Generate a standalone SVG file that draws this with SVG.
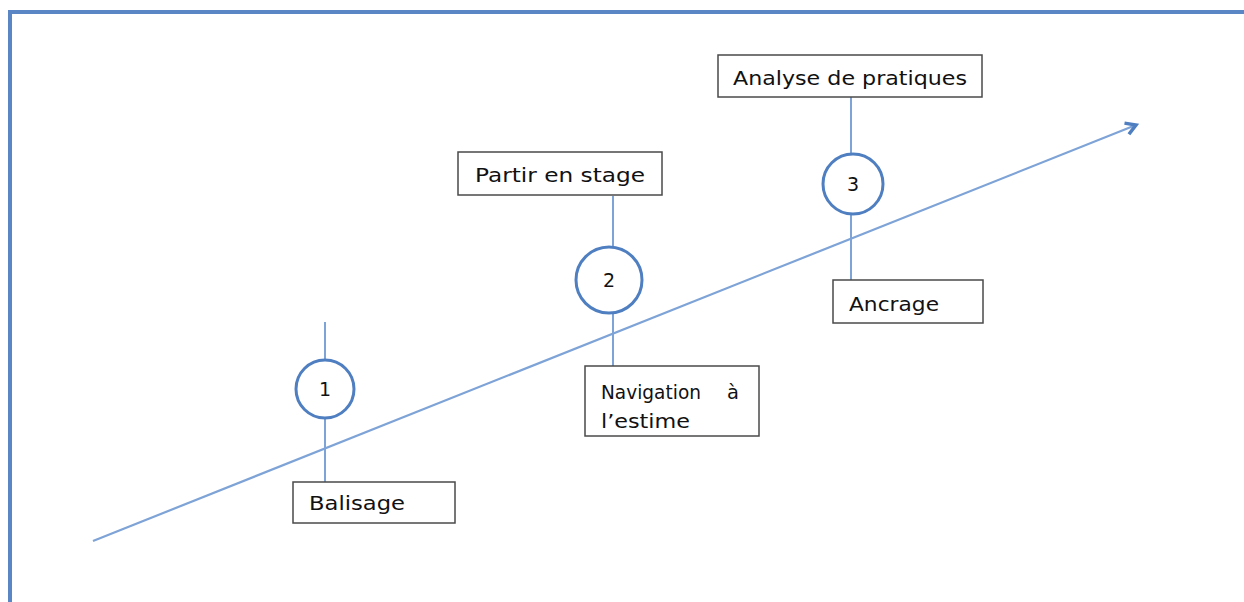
<svg xmlns="http://www.w3.org/2000/svg" width="1244" height="602" viewBox="0 0 1244 602">
<style>
.box{fill:#fff;stroke:#4a4a4a;stroke-width:1.5}
.lbl{font-family:"DejaVu Sans",Verdana,sans-serif;font-size:19.5px;fill:#111}
.num{font-family:"DejaVu Sans",Verdana,sans-serif;font-size:19px;fill:#111;text-anchor:middle}
.stem{stroke:#7ea3d6;stroke-width:2;fill:none}
.circ{fill:#fff;stroke:#4f7fc1;stroke-width:3}
</style>
<defs>
<marker id="arr" markerWidth="16" markerHeight="16" refX="12" refY="8" orient="auto" markerUnits="userSpaceOnUse">
<path d="M2,2 L12,8 L2,14" fill="none" stroke="#4f7fc1" stroke-width="3.5"/>
</marker>
</defs>
<rect width="1244" height="602" fill="#fff"/>
<rect x="10" y="12" width="1400" height="800" fill="none" stroke="#5b86c5" stroke-width="4"/>
<g id="connectors">
<line x1="93" y1="541" x2="1136" y2="125" stroke="#7ea3d6" stroke-width="2.2" marker-end="url(#arr)"/>
<line class="stem" x1="325" y1="322" x2="325" y2="482"/>
<line class="stem" x1="613" y1="196" x2="613" y2="366"/>
<line class="stem" x1="851" y1="97" x2="851" y2="280"/>
</g>
<g id="step1">
<circle class="circ" cx="325" cy="389" r="29"/>
<text class="num" x="325" y="396">1</text>
</g>
<g id="step2">
<circle class="circ" cx="609" cy="280" r="33"/>
<text class="num" x="609" y="287">2</text>
</g>
<g id="step3">
<circle class="circ" cx="853" cy="184" r="30"/>
<text class="num" x="853" y="191">3</text>
</g>
<g id="balisage">
<rect class="box" x="293" y="482" width="162" height="41"/>
<text class="lbl" x="309" y="510" textLength="96" lengthAdjust="spacingAndGlyphs">Balisage</text>
</g>
<g id="partir">
<rect class="box" x="458" y="152" width="204" height="43"/>
<text class="lbl" x="475" y="182" textLength="170" lengthAdjust="spacingAndGlyphs">Partir en stage</text>
</g>
<g id="navigation">
<rect class="box" x="585" y="366" width="174" height="70"/>
<text class="lbl" x="601" y="399" textLength="100" lengthAdjust="spacingAndGlyphs">Navigation</text>
<text class="lbl" x="727" y="399">à</text>
<text class="lbl" x="601" y="428" textLength="89" lengthAdjust="spacingAndGlyphs">l’estime</text>
</g>
<g id="analyse">
<rect class="box" x="718" y="55" width="264" height="42"/>
<text class="lbl" x="733" y="85" textLength="234" lengthAdjust="spacingAndGlyphs">Analyse de pratiques</text>
</g>
<g id="ancrage">
<rect class="box" x="833" y="280" width="150" height="43"/>
<text class="lbl" x="849" y="311" textLength="90" lengthAdjust="spacingAndGlyphs">Ancrage</text>
</g>
</svg>
